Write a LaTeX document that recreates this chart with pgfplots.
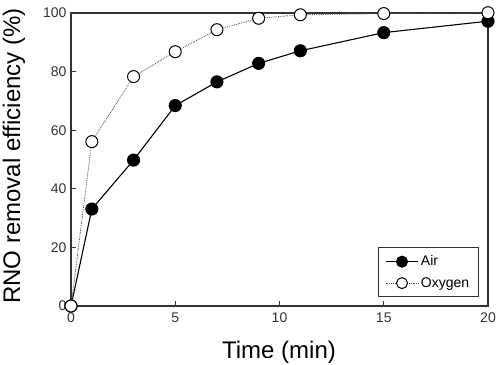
\documentclass[border=0pt]{standalone}
\usepackage{fontspec}
\setmainfont{Liberation Sans}
\usepackage{pgfplots}
\pgfplotsset{compat=1.18}
\begin{document}
\begin{tikzpicture}
\useasboundingbox (-71pt,-58pt) rectangle (426pt,306pt);
\begin{axis}[
  scale only axis, width=417pt, height=293pt,
  at={(0pt,0pt)}, anchor=south west,
  xmin=0, xmax=20, ymin=0, ymax=100,
  xtick={0,5,10,15,20}, ytick={0,20,40,60,80,100},
  tick align=inside, tick pos=left,
  major tick length=5pt,
  axis line style={line width=1.1pt, black!80},
  tick style={line width=0.8pt, black!80},
  /pgf/number format/assume math mode=true,
  tick label style={font=\fontsize{14}{14}\selectfont, text=black!80},
  xticklabel style={yshift=-3pt},
  yticklabel style={xshift=-1pt},
  clip=false,
  legend style={at={(axis cs:19.55,3.0)}, anchor=south east, font=\fontsize{14}{14}\selectfont,
    draw=black!80, line width=0.9pt, inner xsep=7pt, inner ysep=6pt, row sep=6pt,
    cells={anchor=west}},
  legend image code/.code={\draw[#1] (0cm,0cm) -- (1.15cm,0cm); \draw[#1, mark size=5.5pt] plot coordinates {(0.575cm,0cm)};},
]
\addplot[black, line width=1.1pt, mark=*, mark size=6pt, mark options={solid, fill=black}]
coordinates {(0,0) (1,33.1) (3,49.8) (5,68.4) (7,76.5) (9,82.8) (11,87.1) (15,93.3) (20,97.2)};
\addlegendentry{Air}
\addplot[black!70, densely dotted, line width=0.8pt, mark=*, mark size=6pt, mark options={solid, draw=black, fill=white, line width=1pt}]
coordinates {(0,0) (1,56.1) (3,78.3) (5,86.8) (7,94.3) (9,98.2) (11,99.4) (15,99.8) (20,100.1)};
\addlegendentry{Oxygen}
\end{axis}
\node[rotate=90, font=\fontsize{24}{24}\selectfont] at (-57pt,150pt) {RNO removal efficiency (\%)};
\node[font=\fontsize{24}{24}\selectfont] at (208pt,-46pt) {Time (min)};
\end{tikzpicture}
\end{document}
